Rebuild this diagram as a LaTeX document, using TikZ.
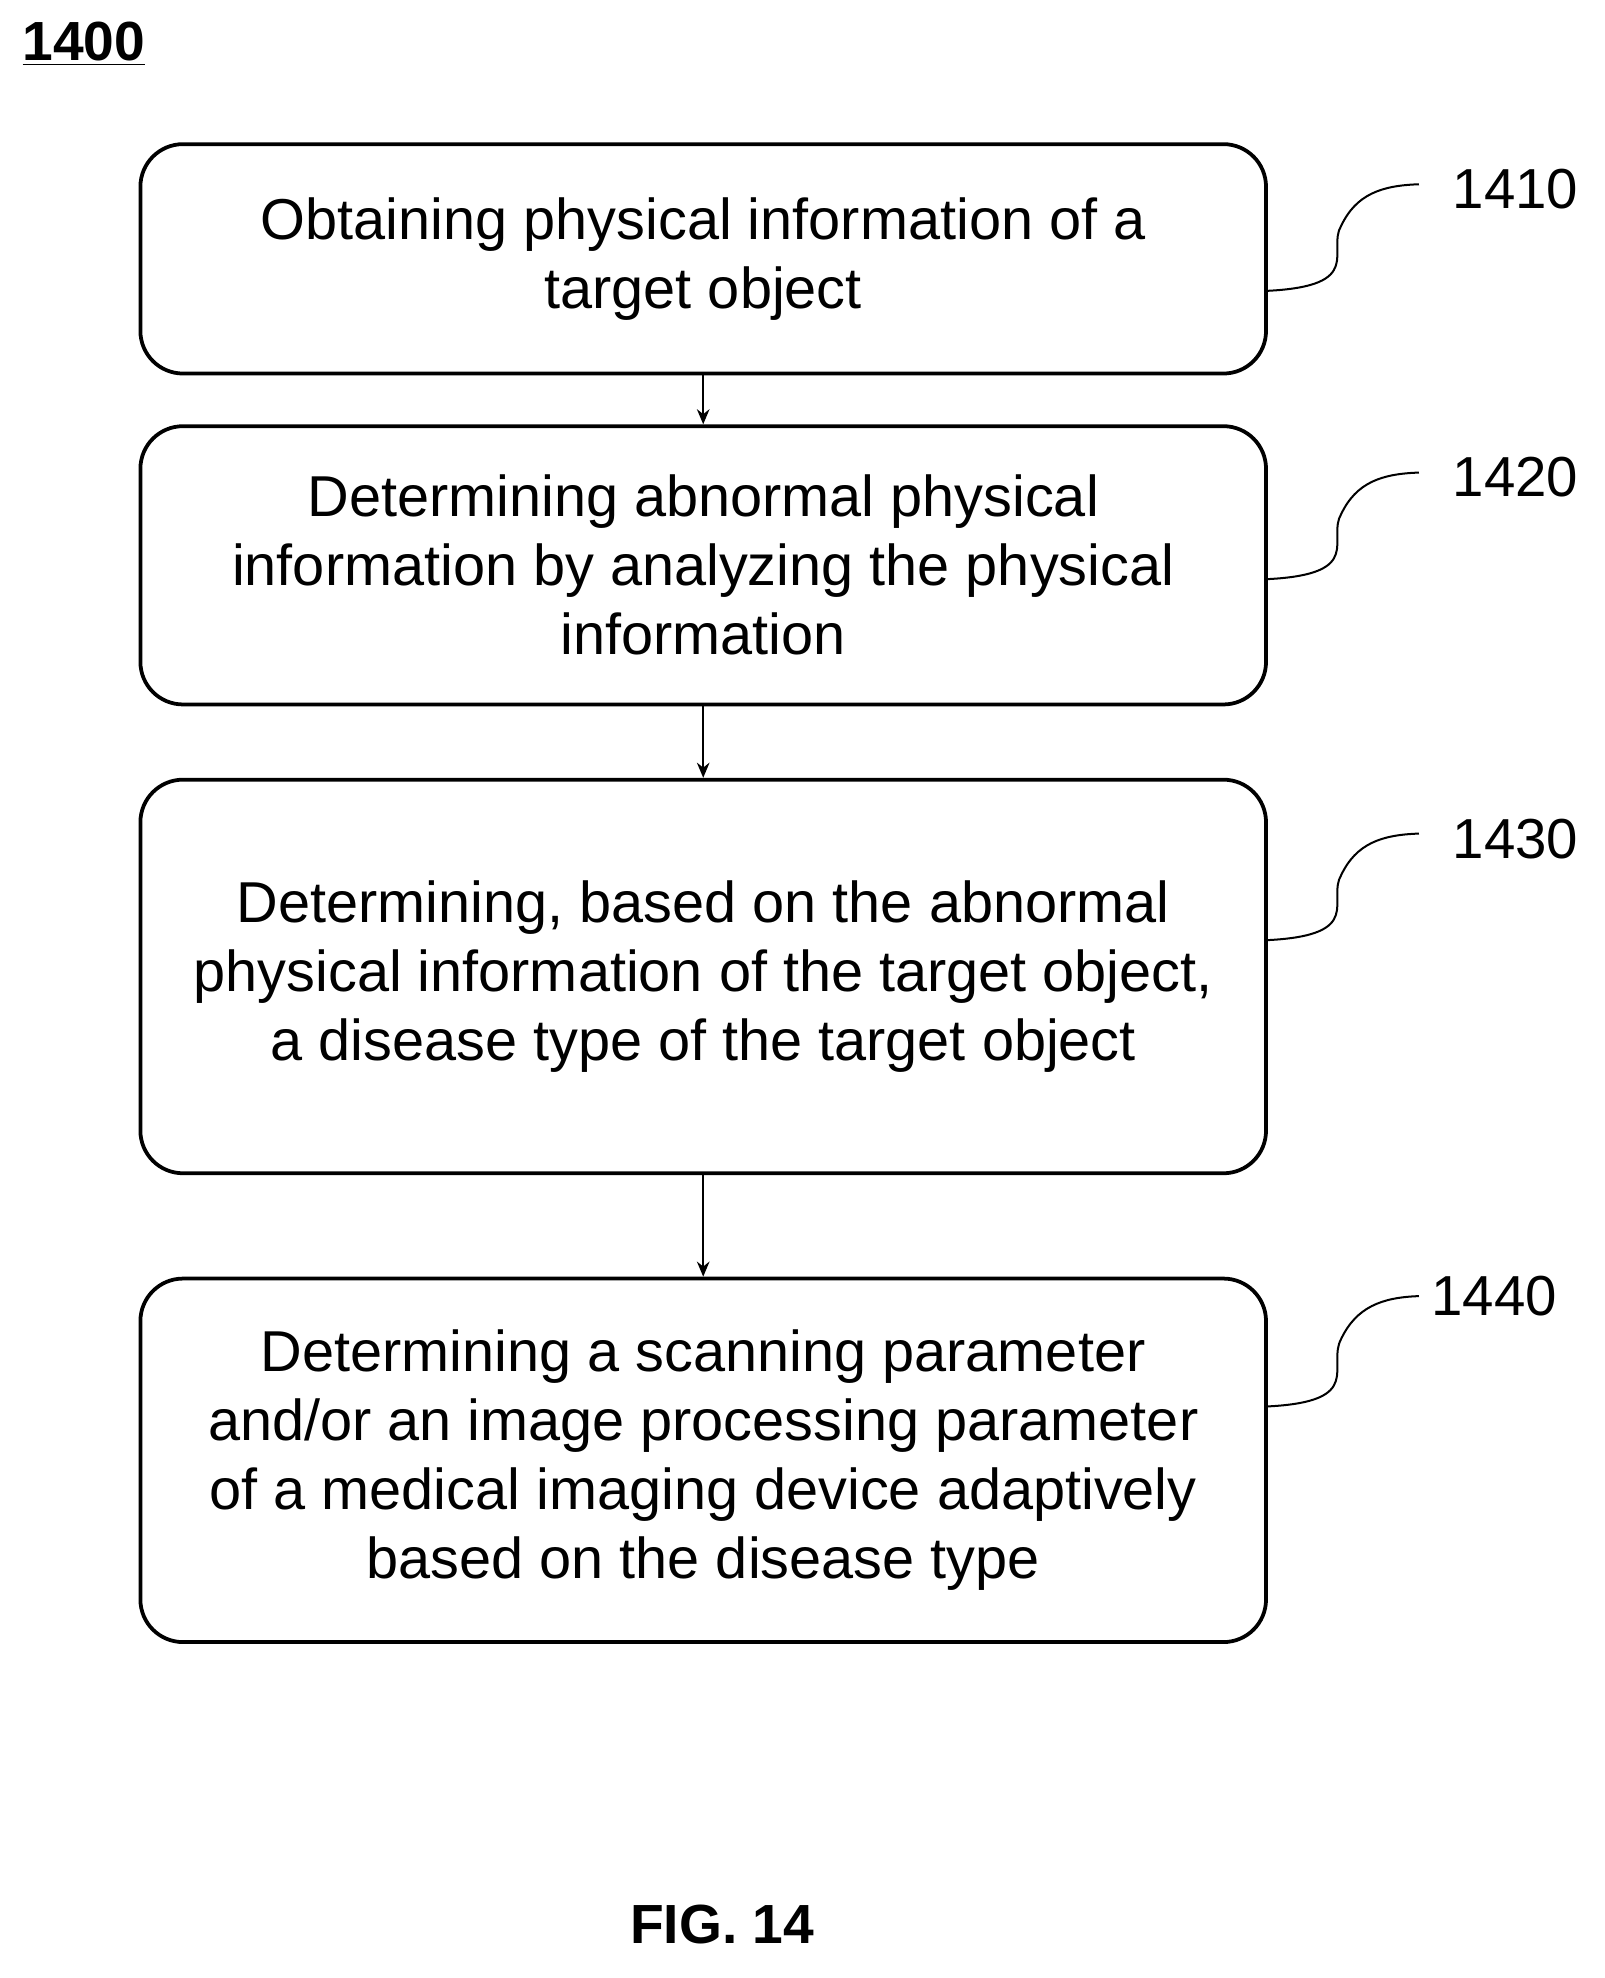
\documentclass[tikz,border=0pt]{standalone}
\usepackage{fontspec}
\setmainfont{Liberation Sans}
\usetikzlibrary{arrows.meta}
\begin{document}
\begin{tikzpicture}[x=0.5pt,y=-0.5pt,
 box/.style={draw,line width=1.5pt,rounded corners=17pt,minimum width=449pt,align=center,font=\fontsize{23}{27.5}\selectfont,inner sep=0pt},
 lab/.style={font=\fontsize{22.5}{26}\selectfont},
 arr/.style={-{Stealth[length=6pt,width=5pt]},line width=0.9pt},
 lead/.style={line width=0.8pt}]
\useasboundingbox (0,0) rectangle (1280,1578);
\node[font=\bfseries\fontsize{22}{24}\selectfont] (t) at (67,35) {\underline{1400}};
\node[box,minimum height=91.5pt] (b1) at (561,206.5) {Obtaining physical information of a\\target object};
\node[box,minimum height=111pt] (b2) at (561,451) {Determining abnormal physical\\information by analyzing the physical\\information};
\node[box,minimum height=157pt] (b3) at (561,779) {Determining, based on the abnormal\\physical information of the target object,\\a disease type of the target object};
\node[box,minimum height=145pt] (b4) at (561,1165) {Determining a scanning parameter\\and/or an image processing parameter\\of a medical imaging device adaptively\\based on the disease type};
\draw[arr] (b1) -- (b2);
\draw[arr] (b2) -- (b3);
\draw[arr] (b3) -- (b4);
\node[lab] (l1) at (1209,151) {1410};
\node[lab] (l2) at (1209,381) {1420};
\node[lab] (l3) at (1209,669) {1430};
\node[lab] (l4) at (1192,1034) {1440};
\coordinate (c1) at (1132,147); \coordinate (c2) at (1132,377);
\coordinate (c3) at (1132,665); \coordinate (c4) at (1132,1034);
\draw[lead] (b1.east |- 0,232) .. controls (1090,228) and (1058,200) .. (1070,180) .. controls (1082,155) and (1102,148) .. (c1);
\draw[lead] (b2.east |- 0,462) .. controls (1090,458) and (1058,430) .. (1070,410) .. controls (1082,385) and (1102,378) .. (c2);
\draw[lead] (b3.east |- 0,750) .. controls (1090,746) and (1058,718) .. (1070,698) .. controls (1082,673) and (1102,666) .. (c3);
\draw[lead] (b4.east |- 0,1122) .. controls (1090,1118) and (1058,1090) .. (1070,1068) .. controls (1082,1043) and (1102,1035) .. (c4);
\node[font=\bfseries\fontsize{22}{24}\selectfont] (f) at (576,1535) {FIG. 14};
\end{tikzpicture}
\end{document}
